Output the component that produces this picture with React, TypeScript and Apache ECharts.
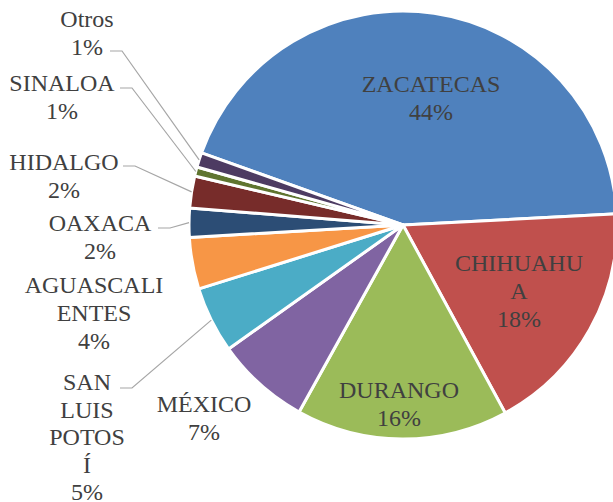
import React, { useEffect, useRef } from "react";
import * as echarts from "echarts";

const CATEGORIES = ["ZACATECAS", "CHIHUAHUA", "DURANGO", "MÉXICO", "SAN LUIS POTOSÍ", "AGUASCALIENTES", "OAXACA", "HIDALGO", "SINALOA", "Otros"];
const DISPLAY_NAMES = ["ZACATECAS", "CHIHUAHU\nA", "DURANGO", "MÉXICO", "SAN\nLUIS\nPOTOS\nÍ", "AGUASCALI\nENTES", "OAXACA", "HIDALGO", "SINALOA", "Otros"];
const VALUES = [43.7, 17.9, 16.0, 7.1, 5.0, 3.9, 2.2, 2.4, 0.7, 1.1];
const COLORS = ["#4F81BD", "#C0504D", "#9BBB59", "#8064A2", "#4BACC6", "#F79646", "#2C4D75", "#772C2A", "#5F7530", "#4D3B62"];

// label layout (block centres) and leader-line anchors
const LABEL_POS = [
  { x: 431, y: 98 },
  { x: 519, y: 291 },
  { x: 399, y: 404 },
  { x: 204, y: 418 },
  { x: 87, y: 437, lineX: 120, lineY: 388, lh: 27.5 },
  { x: 94, y: 313 },
  { x: 100, y: 237, lineX: 158, lineY: 228 },
  { x: 64, y: 176, lineX: 123, lineY: 166 },
  { x: 62, y: 97, lineX: 120, lineY: 88 },
  { x: 87, y: 33, lineX: 110, lineY: 51 },
];

const CENTER = [403, 225];
const RADIUS = 214;
const START_ANGLE = 160.3;
const FONT = "Liberation Serif";

export default function App() {
  const ref = useRef<HTMLDivElement>(null);
  useEffect(() => {
    if (!ref.current) return;
    const chart = echarts.init(ref.current, null, { renderer: "svg" });
    const total = VALUES.reduce((a, b) => a + b, 0);
    const edgePoint = (i: number) => {
      let cum = 0;
      for (let k = 0; k < i; k++) cum += VALUES[k];
      const mid = START_ANGLE - ((cum + VALUES[i] / 2) / total) * 360;
      const rad = (mid * Math.PI) / 180;
      return [CENTER[0] + RADIUS * Math.cos(rad), CENTER[1] - RADIUS * Math.sin(rad)];
    };
    const data = CATEGORIES.map((name, i) => ({
      name,
      value: VALUES[i],
      itemStyle: { color: COLORS[i] },
    }));
    const graphics: any[] = [];
    CATEGORIES.forEach((_, i) => {
      const L: any = LABEL_POS[i];
      if (L.lineX != null) {
        graphics.push({
          type: "polyline",
          silent: true,
          z: 100,
          shape: { points: [edgePoint(i), [L.lineX + 12, L.lineY], [L.lineX, L.lineY]] },
          style: { stroke: "#A6A6A6", lineWidth: 1.2, fill: null },
        });
      }
      const lines = `${DISPLAY_NAMES[i]}\n${Math.round((VALUES[i] / total) * 100)}%`.split("\n");
      const lh = L.lh || 28;
      lines.forEach((s, k) => {
        graphics.push({
          type: "text",
          silent: true,
          z: 101,
          x: L.x,
          y: L.y + (k - (lines.length - 1) / 2) * lh,
          style: {
            text: s,
            fontFamily: FONT,
            fontSize: 24,
            fill: "#404040",
            align: "center",
            verticalAlign: "middle",
          },
        });
      });
    });
    chart.setOption({
      animation: false,
      backgroundColor: "#ffffff",
      series: [
        {
          type: "pie",
          center: CENTER,
          radius: RADIUS,
          startAngle: START_ANGLE,
          clockwise: true,
          avoidLabelOverlap: false,
          data,
          itemStyle: { borderColor: "#ffffff", borderWidth: 3 },
          label: { show: false },
          labelLine: { show: false },
          emphasis: { disabled: true },
        },
      ],
      graphic: graphics,
    });
    return () => chart.dispose();
  }, []);
  return <div ref={ref} style={{ position: "fixed", left: 0, top: 0, width: 613, height: 502 }} />;
}
